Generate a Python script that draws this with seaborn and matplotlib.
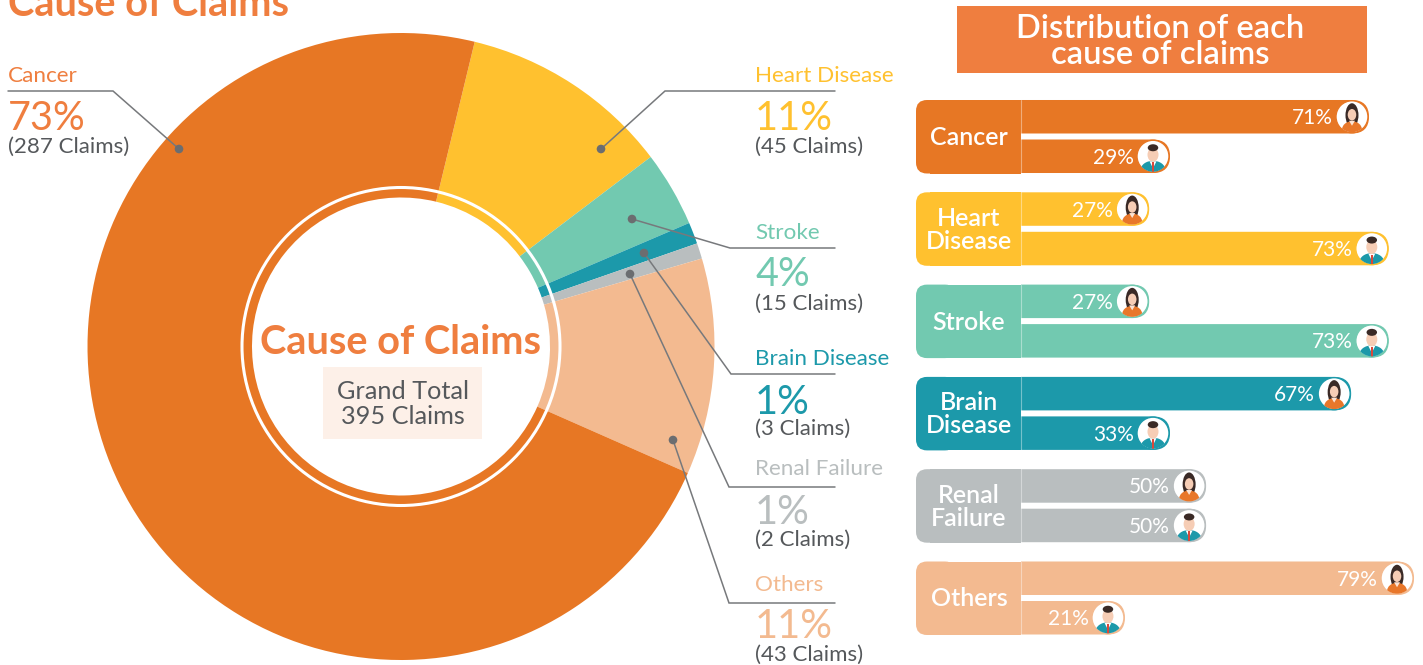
import matplotlib
matplotlib.use("Agg")
import matplotlib.pyplot as plt
import pandas as pd
import seaborn as sns
from matplotlib.patches import Circle, Ellipse, FancyBboxPatch, Polygon, Rectangle

# --- Data ---
causes = ["Cancer", "Heart Disease", "Stroke", "Brain Disease", "Renal Failure", "Others"]
row_labels = ["Cancer", "Heart\nDisease", "Stroke", "Brain\nDisease", "Renal\nFailure", "Others"]
claims = [287, 45, 15, 3, 2, 43]
share_labels = ["73%", "11%", "4%", "1%", "1%", "11%"]
# slice sizes in degrees as drawn in the source, thin slices are wider than their claims
slice_drawn = [259.8, 39.2, 14.0, 4.0, 2.9, 40.1]
female_pct = [71, 27, 27, 67, 50, 79]
male_pct = [29, 73, 73, 33, 50, 21]
# bar lengths as drawn in the source, they do not always follow the printed percent
female_drawn = [70.3, 25.9, 25.9, 66.7, 37.4, 79.4]
male_drawn = [30.1, 74.3, 74.3, 30.1, 37.4, 21]

# --- Style ---
colors = ["#E77724", "#FFC12F", "#72C9B0", "#1C99AA", "#B9BEBF", "#F3BA90"]
text_colors = ["#EF7E3F", "#FFC12F", "#72C9B0", "#1C99AA", "#B9BEBF", "#F3BA90"]
GRAY = "#55585B"
LINE = "#77797C"
W, H = 1423, 665
FONT = "Lato"

sns.set_theme(style="white")
plt.rcParams["font.family"] = [FONT, "DejaVu Sans"]

fig = plt.figure(figsize=(W / 100, H / 100), dpi=100, facecolor="white")


def px_axes(left, top, width, height, **kw):
    """Axes placed with pixel numbers measured from the top left of the figure."""
    return fig.add_axes([left / W, 1 - (top + height) / H, width / W, height / H], **kw)


# --- Donut ---
cx, cy, radius = 401, 346.5, 313.5
half = radius * 1.25
ax_pie = px_axes(cx - half, cy - half, 2 * half, 2 * half)
order = [1, 2, 3, 4, 5, 0]
ax_pie.pie(
    [slice_drawn[i] for i in order],
    colors=sns.color_palette([colors[i] for i in order]),
    startangle=76.4,
    counterclock=False,
    radius=1,
    wedgeprops={"width": 1 - 149 / radius, "linewidth": 0},
)
ax_pie.add_patch(Circle((0, 0), 159 / radius, fill=False, ec="white", lw=2.2))

# --- Bars ---
BAR_X0, PX_PER_PCT = 1021, 4.95
ROW_TOP, ROW_STEP = 100, 92.3
bar_ax_top = ROW_TOP + 36.5 - ROW_STEP / 2
ax_bar = px_axes(BAR_X0, bar_ax_top, W - BAR_X0, ROW_STEP * 6)
ax_bar.patch.set_alpha(0)

df = pd.DataFrame({
    "cause": causes * 2,
    "gender": ["Female"] * 6 + ["Male"] * 6,
    "drawn": female_drawn + male_drawn,
})
sns.barplot(
    data=df, y="cause", x="drawn", hue="gender", hue_order=["Female", "Male"],
    order=causes, width=0.856, gap=0.152, legend=False, ax=ax_bar,
)
ax_bar.set_xlim(0, (W - BAR_X0) / PX_PER_PCT)
ax_bar.set_ylim(5.5, -0.5)
ax_bar.set_axis_off()

# swap the square bars for pill shaped ones
ends = []
y_per_px = 1 / ROW_STEP
aspect = y_per_px * PX_PER_PCT
for container, gender in zip(ax_bar.containers, ["Female", "Male"]):
    for row, bar in enumerate(container):
        x, y, w, h = bar.get_x(), bar.get_y(), bar.get_width(), bar.get_height()
        bar.set_visible(False)
        ax_bar.add_patch(FancyBboxPatch(
            (x - 5, y), w + 5, h, boxstyle=f"round,pad=0,rounding_size={17 / PX_PER_PCT}",
            mutation_aspect=aspect, fc=colors[row], ec="none", clip_on=True, zorder=2,
        ))
        ends.append((row, gender, BAR_X0 + w * PX_PER_PCT,
                     bar_ax_top + (y + h / 2 + 0.5) * ROW_STEP))

# --- Overlay in pixel coordinates ---
ax = px_axes(0, 0, W, H)
ax.set_xlim(0, W)
ax.set_ylim(H, 0)
ax.set_axis_off()
ax.patch.set_alpha(0)

ax.text(8, 4, "Cause of Claims", color="#EF7E3F", fontsize=28.6, fontweight="bold", va="center", ha="left")
ax.text(401, 343, "Cause of Claims", color="#EF7E3F", fontsize=28.6, fontweight="bold", va="center", ha="center")
ax.add_patch(Rectangle((323, 367), 159, 72, fc="#FDF0E8", ec="none"))
ax.text(403, 404, "Grand Total\n395 Claims", color=GRAY, fontsize=18.2, va="center", ha="center", linespacing=1.12)

ax.add_patch(Rectangle((957, 6), 410, 67, fc="#EF7E3F", ec="none"))
ax.text(1160, 42, "Distribution of each\ncause of claims", color="white", fontsize=23.6, fontweight="semibold",
        va="center", ha="center", linespacing=0.82)

# callouts: text x, rows of the three text lines, leader points
label_x = [8, 755, 755, 755, 755, 755]
label_y = [(76, 119, 147), (76, 119, 147), (233, 275, 304), (359, 402, 429), (469, 513, 540), (585, 627, 655)]
leaders = [
    [(179, 149), (113, 91), (8, 91)],
    [(601, 149), (665, 91), (835, 91)],
    [(632, 219), (730, 248), (835, 248)],
    [(644, 253), (731, 374), (835, 374)],
    [(630, 274), (729, 487), (835, 487)],
    [(673, 440), (729, 603), (835, 603)],
]
for i, cause in enumerate(causes):
    xs, ys = zip(*leaders[i])
    ax.plot(xs, ys, color=LINE, lw=1.1, solid_joinstyle="miter")
    ax.add_patch(Circle(leaders[i][0], 4.3, fc="#6B6D70", ec="none", zorder=3))
    y1, y2, y3 = label_y[i]
    ax.text(label_x[i], y1, cause, color=text_colors[i], fontsize=16.2, va="center")
    ax.text(label_x[i], y2, share_labels[i], color=text_colors[i], fontsize=28.5, va="center")
    ax.text(label_x[i], y3, f"({claims[i]} Claims)", color=GRAY, fontsize=16, va="center")


def draw_avatar(cx, cy, r, gender, ring):
    """Small portrait in a white disc at the end of a bar."""
    disc = Circle((cx, cy), r, fc="white", ec=ring, lw=1, zorder=5)
    ax.add_patch(disc)
    clip = Circle((cx, cy), r - 0.5, transform=ax.transData)
    hair, skin = "#3A2A26", "#F6CDB5"
    parts = []
    if gender == "Female":
        parts.append(Ellipse((cx, cy - 1.5), 13, 24, fc=hair, ec="none"))
        parts.append(Ellipse((cx, cy + 13), 20, 17, fc="#E8772A", ec="none"))
        parts.append(Polygon([(cx - 3, cy + 4), (cx + 3, cy + 4), (cx, cy + 9)], fc="#FBE3D4", ec="none"))
        parts.append(Ellipse((cx, cy - 2), 8.5, 11.5, fc=skin, ec="none"))
    else:
        parts.append(Ellipse((cx, cy + 14), 25, 19, fc="#1C99AA", ec="none"))
        parts.append(Polygon([(cx - 3.5, cy + 5), (cx + 3.5, cy + 5), (cx, cy + 12)], fc="white", ec="none"))
        parts.append(Polygon([(cx - 1, cy + 6), (cx + 1, cy + 6), (cx + 1, cy + 16), (cx - 1, cy + 16)], fc="#D9483B", ec="none"))
        parts.append(Ellipse((cx, cy - 1.5), 11, 14, fc=skin, ec="none"))
        parts.append(Ellipse((cx, cy - 8.5), 10.5, 7, fc=hair, ec="none"))
    for part in parts:
        ax.add_patch(part)
        part.set_zorder(6)
        part.set_clip_path(clip)


# row header blocks and bar text
for i, label in enumerate(row_labels):
    top = ROW_TOP + ROW_STEP * i
    ax.add_patch(FancyBboxPatch((916, top), 40, 73.5, boxstyle="round,pad=0,rounding_size=11", fc=colors[i], ec="none"))
    ax.add_patch(Rectangle((930, top), 91, 73.5, fc=colors[i], ec="none"))
    ax.plot([1021, 1021], [top, top + 73.5], color="white", alpha=0.4, lw=0.8, zorder=4)
    ax.text(969, top + 37.5, label, color="white", fontsize=18, fontweight="semibold",
            va="center", ha="center", linespacing=1.0)

for row, gender, end, yc in ends:
    pct = female_pct[row] if gender == "Female" else male_pct[row]
    draw_avatar(end - 17, yc, 16, gender, colors[row])
    ax.text(end - 36, yc + 1.5, f"{pct}%", color="white", fontsize=15, va="center", ha="right", zorder=5)

fig.savefig("out.png", dpi=100)
